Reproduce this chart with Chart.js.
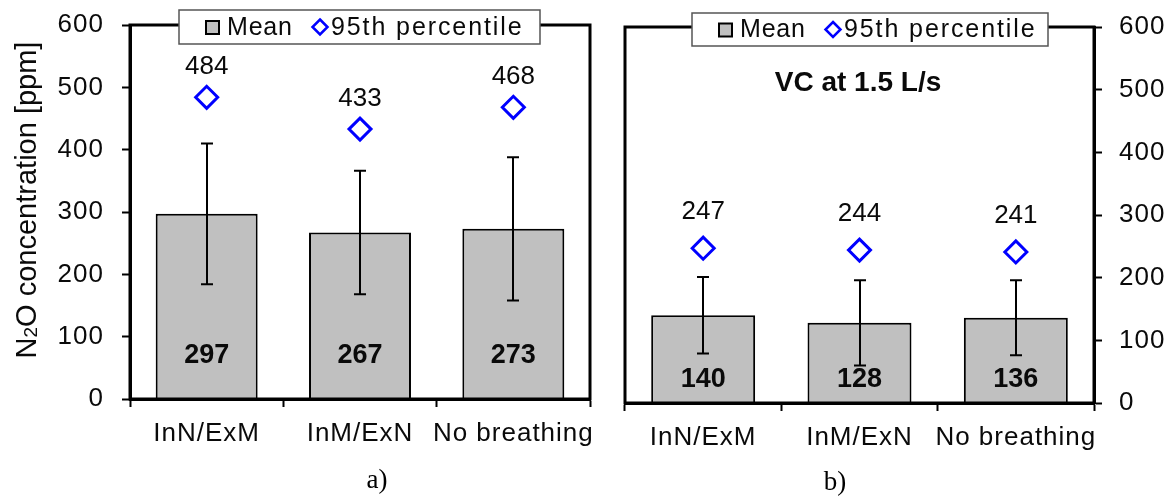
<!DOCTYPE html>
<html>
<head>
<meta charset="utf-8">
<script src="https://cdn.jsdelivr.net/npm/chart.js@4.4.1/dist/chart.umd.min.js"></script>
<style>
  html, body { margin:0; padding:0; background:#fff; }
  #wrap { position:relative; width:1173px; height:497px; overflow:hidden; }
  .panel { position:absolute; top:0; height:497px; }
  #pa { left:0; width:600px; }
  #pb { left:600px; width:573px; }
</style>
</head>
<body>
<div id="wrap">
  <div class="panel" id="pa"><canvas id="ca"></canvas></div>
  <div class="panel" id="pb"><canvas id="cb"></canvas></div>
</div>
<script>
// ---- data ----
const categories = ['InN/ExM', 'InM/ExN', 'No breathing'];
const meanA = [297, 267, 273];
const sdA   = [113, 99, 115];
const p95A  = [484, 433, 468];
const meanB = [140, 128, 136];
const sdB   = [61, 68, 60];
const p95B  = [247, 244, 241];
const seriesLabels = ['Mean', '95th percentile'];
const yTickStep = 100;
const yMax = 600;

const SANS = "'Liberation Sans', Arial, Helvetica, sans-serif";
const SERIF = "'Liberation Serif', 'Times New Roman', serif";
const TXT = '#0a0a0a';

const panelPlugin = {
  id: 'panel',
  beforeDraw(chart) {
    chart.ctx.letterSpacing = '1px';
  },
  afterDatasetsDraw(chart, args, o) {
    const ctx = chart.ctx, y = chart.scales.y;
    const barMeta = chart.getDatasetMeta(0);
    const ptMeta = chart.getDatasetMeta(1);
    const means = chart.data.datasets[0].data;
    const p95 = chart.data.datasets[1].data;
    ctx.save();
    ctx.letterSpacing = '0px';
    // error bars
    ctx.strokeStyle = '#000'; ctx.lineWidth = 2;
    o.sd.forEach((s, i) => {
      const cx = Math.round(barMeta.data[i].x);
      const yt = y.getPixelForValue(means[i] + s);
      const yb = y.getPixelForValue(means[i] - s);
      ctx.beginPath();
      ctx.moveTo(cx, yt); ctx.lineTo(cx, yb);
      ctx.moveTo(cx - 6, yt); ctx.lineTo(cx + 6, yt);
      ctx.moveTo(cx - 6, yb); ctx.lineTo(cx + 6, yb);
      ctx.stroke();
    });
    // labels
    ctx.fillStyle = TXT;
    ctx.textAlign = 'center'; ctx.textBaseline = 'middle';
    ctx.font = 'bold 27px ' + SANS;
    means.forEach((m, i) => {
      ctx.fillText(String(m), barMeta.data[i].x, y.getPixelForValue(0) - o.meanLabelOffset);
    });
    ctx.font = '26px ' + SANS;
    p95.forEach((v, i) => {
      ctx.fillText(String(v), ptMeta.data[i].x, ptMeta.data[i].y - o.p95LabelOffset);
    });
    ctx.restore();
  },
  afterDraw(chart, args, o) {
    const ctx = chart.ctx, a = chart.chartArea;
    ctx.save();
    ctx.letterSpacing = '0px';
    // plot frame
    ctx.strokeStyle = '#000'; ctx.lineWidth = 3;
    ctx.strokeRect(a.left, a.top, a.right - a.left, a.bottom - a.top);
    // legend box
    const L = o.legend;
    ctx.fillStyle = '#fff';
    ctx.fillRect(L.x, L.y, L.w, L.h);
    ctx.strokeStyle = '#555'; ctx.lineWidth = 1.5;
    ctx.strokeRect(L.x, L.y, L.w, L.h);
    const cy = L.y + L.h / 2;
    const ds0 = chart.data.datasets[0], ds1 = chart.data.datasets[1];
    // square marker
    ctx.fillStyle = ds0.backgroundColor; ctx.strokeStyle = '#000'; ctx.lineWidth = 2;
    ctx.fillRect(L.x + 27, cy - 6, 13, 13);
    ctx.strokeRect(L.x + 27, cy - 6, 13, 13);
    // diamond marker
    const dx = L.x + 141, r = 7.5;
    ctx.beginPath();
    ctx.moveTo(dx, cy - r); ctx.lineTo(dx + r, cy); ctx.lineTo(dx, cy + r); ctx.lineTo(dx - r, cy); ctx.closePath();
    ctx.fillStyle = '#fff'; ctx.fill();
    ctx.strokeStyle = ds1.borderColor; ctx.lineWidth = 2.5; ctx.stroke();
    ctx.fillStyle = TXT; ctx.font = '25px ' + SANS;
    ctx.textAlign = 'left'; ctx.textBaseline = 'middle';
    ctx.letterSpacing = '0.8px';
    ctx.fillText(ds0.label, L.x + 48, cy + 1);
    ctx.letterSpacing = '1.9px';
    ctx.fillText(ds1.label, L.x + 152, cy + 1);
    ctx.letterSpacing = '0px';
    // y axis title (panel a)
    if (o.yTitle) {
      ctx.save();
      ctx.translate(o.yTitle.x, o.yTitle.y);
      ctx.rotate(-Math.PI / 2);
      ctx.fillStyle = TXT;
      ctx.textBaseline = 'middle'; ctx.textAlign = 'left';
      const big = '29px ' + SANS, small = '19px ' + SANS;
      ctx.font = big; const w1 = ctx.measureText('N').width;
      ctx.font = small; const w2 = ctx.measureText('2').width;
      ctx.font = big; const w3 = ctx.measureText('O concentration [ppm]').width;
      let x0 = -(w1 + w2 + w3) / 2;
      ctx.font = big; ctx.fillText('N', x0, 0);
      ctx.font = small; ctx.fillText('2', x0 + w1, 4);
      ctx.font = big; ctx.fillText('O concentration [ppm]', x0 + w1 + w2, 0);
      ctx.restore();
    }
    // inner title (panel b)
    if (o.innerTitle) {
      ctx.fillStyle = TXT; ctx.font = 'bold 28px ' + SANS;
      ctx.textAlign = 'center'; ctx.textBaseline = 'middle';
      ctx.fillText(o.innerTitle.text, o.innerTitle.x, o.innerTitle.y);
    }
    // caption
    ctx.fillStyle = '#000'; ctx.font = '27px ' + SERIF;
    ctx.textAlign = 'center'; ctx.textBaseline = 'middle';
    ctx.fillText(o.caption.text, o.caption.x, o.caption.y);
    ctx.restore();
  }
};

function makeChart(canvasId, means, sds, p95s, cfg) {
  return new Chart(document.getElementById(canvasId), {
    data: {
      labels: categories,
      datasets: [
        {
          type: 'bar', label: seriesLabels[0], data: means,
          backgroundColor: '#c0c0c0', borderColor: '#000', borderWidth: 2,
          barPercentage: 0.665, categoryPercentage: 1, order: 2
        },
        {
          type: 'line', label: seriesLabels[1], data: p95s, showLine: false,
          pointStyle: 'rectRot', pointRadius: cfg.pointRadius, pointBorderWidth: 3,
          borderColor: '#0000ff', pointBorderColor: '#0000ff', pointBackgroundColor: '#fff',
          backgroundColor: '#fff', order: 1
        }
      ]
    },
    options: {
      responsive: true, maintainAspectRatio: false, animation: false,
      layout: { padding: cfg.padding, autoPadding: false },
      plugins: {
        legend: { display: false }, tooltip: { enabled: false },
        panel: Object.assign({ sd: sds }, cfg.panel)
      },
      scales: {
        x: {
          type: 'category', offset: true,
          grid: { display: true, drawOnChartArea: false, drawTicks: true, tickLength: 8, tickWidth: 2, tickColor: '#000', offset: true },
          border: { display: true, color: '#000', width: 3 },
          ticks: { color: TXT, font: { family: SANS, size: 26 }, padding: cfg.xPad, maxRotation: 0, autoSkip: false },
          afterFit: s => { s.height = cfg.xHeight; s.paddingLeft = 0; s.paddingRight = 0; }
        },
        y: {
          position: cfg.yPos, min: 0, max: yMax,
          grid: { display: true, drawOnChartArea: false, drawTicks: true, tickLength: 8, tickWidth: 2, tickColor: '#000' },
          border: { display: true, color: '#000', width: 3 },
          ticks: { stepSize: yTickStep, color: TXT, font: { family: SANS, size: 26 }, padding: cfg.yPad },
          afterFit: s => { s.width = cfg.yWidth; s.paddingTop = 0; s.paddingBottom = 0; }
        }
      }
    },
    plugins: [panelPlugin]
  });
}

makeChart('ca', meanA, sdA, p95A, {
  padding: { left: 0, right: 10, top: 25, bottom: 0 },
  yPos: 'left', yWidth: 130, xHeight: 98, xPad: 11, yPad: 18, pointRadius: 11,
  panel: {
    meanLabelOffset: 43, p95LabelOffset: 30,
    legend: { x: 179, y: 10, w: 361, h: 34 },
    yTitle: { x: 28, y: 200 },
    caption: { text: 'a)', x: 377, y: 481 }
  }
});

makeChart('cb', meanB, sdB, p95B, {
  padding: { left: 25, right: 0, top: 27, bottom: 0 },
  yPos: 'right', yWidth: 79, xHeight: 94, xPad: 11, yPad: 17, pointRadius: 11,
  panel: {
    meanLabelOffset: 23, p95LabelOffset: 36,
    legend: { x: 92, y: 13, w: 356, h: 33 },
    innerTitle: { text: 'VC at 1.5 L/s', x: 258, y: 83 },
    caption: { text: 'b)', x: 235, y: 483 }
  }
});
</script>
</body>
</html>
